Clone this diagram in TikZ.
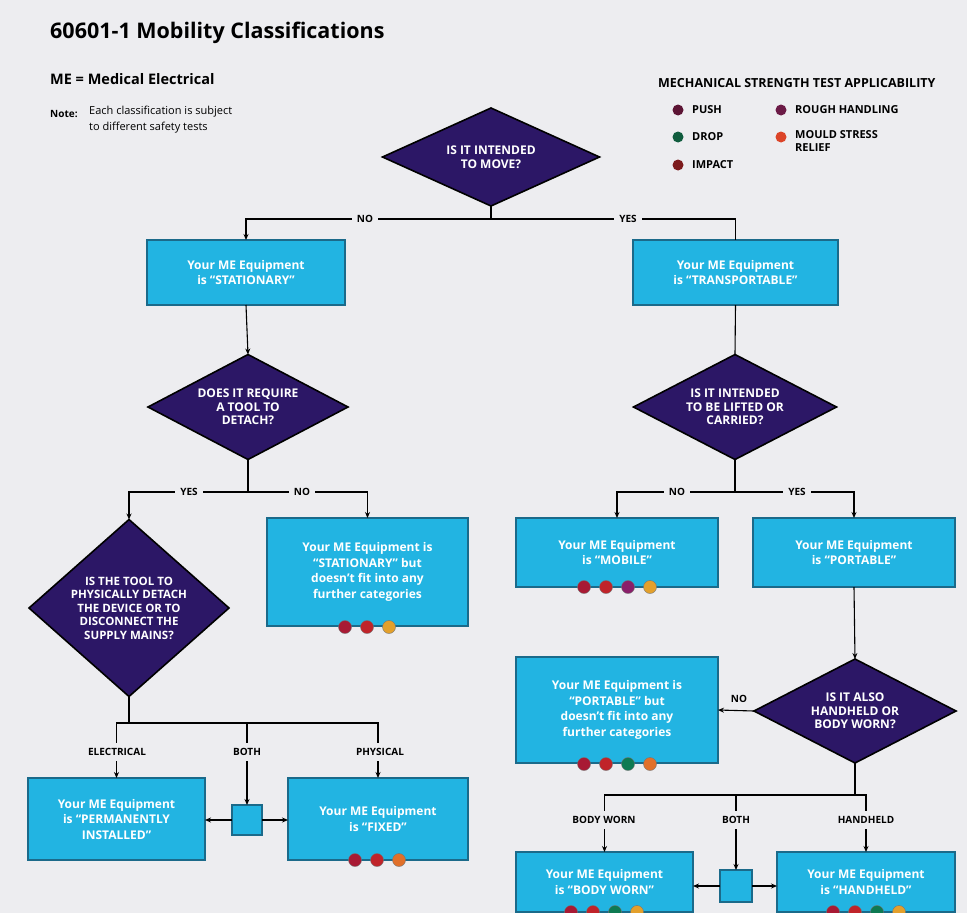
\documentclass[tikz,border=0pt]{standalone}
\usepackage{fontspec}
\setmainfont{Open Sans}
\usetikzlibrary{shapes.geometric,arrows.meta}
\definecolor{bg}{HTML}{EDEDF0}
\definecolor{boxfill}{HTML}{22B4E2}
\definecolor{boxline}{HTML}{1B6A8A}
\definecolor{dia}{HTML}{2C1766}
\definecolor{cpush}{HTML}{A81A34}
\definecolor{cimpact}{HTML}{C0242A}
\definecolor{crough}{HTML}{8A1F6A}
\definecolor{cdrop}{HTML}{0E7A52}
\definecolor{cmould}{HTML}{E3A02C}
\definecolor{cmouldb}{HTML}{E0702A}
\definecolor{lpush}{HTML}{5C1434}
\definecolor{lrough}{HTML}{6B1A46}
\definecolor{ldrop}{HTML}{105C3E}
\definecolor{lmould}{HTML}{DC4428}
\definecolor{limpact}{HTML}{7C1A1C}
\begin{document}
\begin{tikzpicture}[x=1pt,y=-1pt,
  ebox/.style={draw=boxline, line width=1.3pt, fill=boxfill, text=white,
    font=\fontsize{12}{15.5}\selectfont\bfseries, align=center, inner sep=0pt, outer sep=0pt},
  sbox/.style={draw=boxline, line width=1.3pt, fill=boxfill, inner sep=0pt, outer sep=0pt},
  dm/.style={diamond, draw=black, line width=1.6pt, fill=dia, inner sep=0pt, outer sep=0pt},
  dmtext/.style={text=white, font=\fontsize{12}{13.5}\selectfont\bfseries, align=center, inner sep=0pt},
  lbl/.style={fill=bg, font=\fontsize{10}{11}\selectfont\bfseries, inner xsep=5pt, inner ysep=5pt},
  mdot/.style={circle, inner sep=0pt, minimum size=13pt, draw=black!55, line width=0.4pt},
  ldot/.style={circle, inner sep=0pt, minimum size=11pt},
  ltext/.style={font=\fontsize{11}{13}\selectfont\bfseries, anchor=west, inner sep=0pt, align=left},
  conn/.style={draw=black, line width=1.1pt},
  arr/.style={conn, -{Stealth[length=6pt,width=5pt]}}
]
\clip (0,0) rectangle (967,913);
\fill[bg] (0,0) rectangle (967,913);

% header
\node[anchor=west, inner sep=0pt, font=\fontsize{21.5}{24}\selectfont\bfseries] (title) at (50,33) {60601-1 Mobility Classifications};
\node[anchor=west, inner sep=0pt, font=\fontsize{14.5}{16}\selectfont\bfseries] (me) at (50,79) {ME = Medical Electrical};
\node[anchor=west, inner sep=0pt, font=\fontsize{10}{11}\selectfont\bfseries] (notek) at (50,114) {Note:};
\node[anchor=north west, inner sep=0pt, align=left, font=\fontsize{11}{16}\selectfont] (note) at (89,106) {Each classification is subject\\to different safety tests};

% legend
\node[anchor=west, inner sep=0pt, font=\fontsize{12.5}{14}\selectfont\bfseries] (lhead) at (658,83) {MECHANICAL STRENGTH TEST APPLICABILITY};
\node[ldot, fill=lpush] (lg1) at (678,110) {};
\node[ltext] (lt1) at (692,110) {PUSH};
\node[ldot, fill=ldrop] (lg2) at (678,137) {};
\node[ltext] (lt2) at (692,137) {DROP};
\node[ldot, fill=limpact] (lg3) at (678,165) {};
\node[ltext] (lt3) at (692,165) {IMPACT};
\node[ldot, fill=lrough] (lg4) at (781,110) {};
\node[ltext] (lt4) at (795,110) {ROUGH HANDLING};
\node[ldot, fill=lmould] (lg5) at (781,137) {};
\node[ltext, anchor=north west] (lt5) at (795,130) {MOULD STRESS\\RELIEF};

% diamonds
\node[dm, minimum width=217, minimum height=98] (d1) at (491,157) {};
\node[dmtext] (d1t) at (d1) {IS IT INTENDED\\TO MOVE?};
\node[dm, minimum width=200, minimum height=105] (d2) at (248,407) {};
\node[dmtext] (d2t) at (d2) {DOES IT REQUIRE\\A TOOL TO\\DETACH?};
\node[dm, minimum width=203, minimum height=105] (d3) at (735,407) {};
\node[dmtext] (d3t) at (d3) {IS IT INTENDED\\TO BE LIFTED OR\\CARRIED?};
\node[dm, minimum width=200, minimum height=177] (d4) at (129,608) {};
\node[dmtext, font=\fontsize{11.5}{13.5}\selectfont\bfseries] (d4t) at (d4) {IS THE TOOL TO\\PHYSICALLY DETACH\\THE DEVICE OR TO\\DISCONNECT THE\\SUPPLY MAINS?};
\node[dm, minimum width=202, minimum height=104] (d5) at (855,711) {};
\node[dmtext] (d5t) at (d5) {IS IT ALSO\\HANDHELD OR\\BODY WORN?};

% boxes
\node[ebox, minimum width=198, minimum height=65] (st) at (246,272.5) {Your ME Equipment\\is “STATIONARY”};
\node[ebox, minimum width=205, minimum height=65] (tr) at (735.5,272.5) {Your ME Equipment\\is “TRANSPORTABLE”};
\node[ebox, minimum width=201, minimum height=108] (stb) at (367.5,572) {Your ME Equipment is\\“STATIONARY” but\\doesn’t fit into any\\further categories};
\node[ebox, minimum width=202, minimum height=69] (mob) at (617,552.5) {Your ME Equipment\\is “MOBILE”};
\node[ebox, minimum width=202, minimum height=69] (port) at (854,552.5) {Your ME Equipment\\is “PORTABLE”};
\node[ebox, minimum width=202, minimum height=106] (portb) at (617,710) {Your ME Equipment is\\“PORTABLE” but\\doesn’t fit into any\\further categories};
\node[ebox, minimum width=177, minimum height=82] (perm) at (116.5,819) {Your ME Equipment\\is “PERMANENTLY\\INSTALLED”};
\node[ebox, minimum width=180, minimum height=82] (fixed) at (378,819) {Your ME Equipment\\is “FIXED”};
\node[sbox, minimum width=30, minimum height=30] (sm1) at (247,820) {};
\node[ebox, minimum width=177, minimum height=60] (body) at (604.5,882) {Your ME Equipment\\is “BODY WORN”};
\node[sbox, minimum width=32, minimum height=32] (sm2) at (736,886) {};
\node[ebox, minimum width=178, minimum height=60] (hand) at (866,882) {Your ME Equipment\\is “HANDHELD”};

% junctions
\coordinate (j1) at (491,219);
\coordinate (j2) at (248,492);
\coordinate (j3) at (735,492);
\coordinate (j4) at (129,723);
\coordinate (j5) at (855,795);

% connectors
\draw[conn] (d1.south) -- (j1);
\draw[arr] (j1) -| (st.north);
\draw[conn] (j1) -| (tr.north);
\draw[arr] (st.south) -- (d2.north);
\draw[conn] (tr.south) -- (d3.north);
\draw[conn] (d2.south) -- (j2);
\draw[arr] (j2) -| (d4.north);
\draw[arr] (j2) -| (stb.north);
\draw[conn] (d3.south) -- (j3);
\draw[arr] (j3) -| (mob.north);
\draw[arr] (j3) -| (port.north);
\draw[arr] (port.south) -- (d5.north);
\draw[arr] (d5.west) -- (portb.east);
\draw[conn] (d4.south) -- (j4);
\draw[arr] (j4) -| (perm.north);
\draw[arr] (j4) -| (fixed.north);
\draw[arr] (sm1.north |- j4) -- (sm1.north);
\draw[arr] (sm1.west) -- (perm.east |- sm1.west);
\draw[arr] (sm1.east) -- (fixed.west |- sm1.east);
\draw[conn] (d5.south) -- (j5);
\draw[arr] (j5) -| (body.north);
\draw[arr] (j5) -| (hand.north);
\draw[arr] (sm2.north |- j5) -- (sm2.north);
\draw[arr] (sm2.west) -- (body.east |- sm2.west);
\draw[arr] (sm2.east) -- (hand.west |- sm2.east);

% labels
\node[lbl] (l1) at (365,219) {NO};
\node[lbl] (l2) at (628,219) {YES};
\node[lbl] (l3) at (189,492) {YES};
\node[lbl] (l4) at (302,492) {NO};
\node[lbl] (l5) at (677,492) {NO};
\node[lbl] (l6) at (797,492) {YES};
\node[lbl, fill=none] (l7) at (739,699) {NO};
\node[lbl] (l8) at (117,752) {ELECTRICAL};
\node[lbl] (l9) at (247,752) {BOTH};
\node[lbl] (l10) at (380,752) {PHYSICAL};
\node[lbl] (l11) at (604,820) {BODY WORN};
\node[lbl] (l12) at (736,820) {BOTH};
\node[lbl] (l13) at (866,820) {HANDHELD};

% test dots
\node[mdot, fill=cpush] (a1) at (345,627) {};
\node[mdot, fill=cimpact] (a2) at (367,627) {};
\node[mdot, fill=cmould] (a3) at (389,627) {};
\node[mdot, fill=cpush] (b1) at (584,587) {};
\node[mdot, fill=cimpact] (b2) at (606,587) {};
\node[mdot, fill=crough] (b3) at (628,587) {};
\node[mdot, fill=cmould] (b4) at (650,587) {};
\node[mdot, fill=cpush] (c1) at (584,764) {};
\node[mdot, fill=cimpact] (c2) at (606,764) {};
\node[mdot, fill=cdrop] (c3) at (628,764) {};
\node[mdot, fill=cmouldb] (c4) at (650,764) {};
\node[mdot, fill=cpush] (e1) at (355,860) {};
\node[mdot, fill=cimpact] (e2) at (377,860) {};
\node[mdot, fill=cmouldb] (e3) at (399,860) {};
\node[mdot, fill=cpush] (f1) at (571,912) {};
\node[mdot, fill=cimpact] (f2) at (593,912) {};
\node[mdot, fill=cdrop] (f3) at (615,912) {};
\node[mdot, fill=cmould] (f4) at (637,912) {};
\node[mdot, fill=cpush] (g1) at (833,912) {};
\node[mdot, fill=cimpact] (g2) at (855,912) {};
\node[mdot, fill=cdrop] (g3) at (877,912) {};
\node[mdot, fill=cmould] (g4) at (899,912) {};
\end{tikzpicture}
\end{document}
